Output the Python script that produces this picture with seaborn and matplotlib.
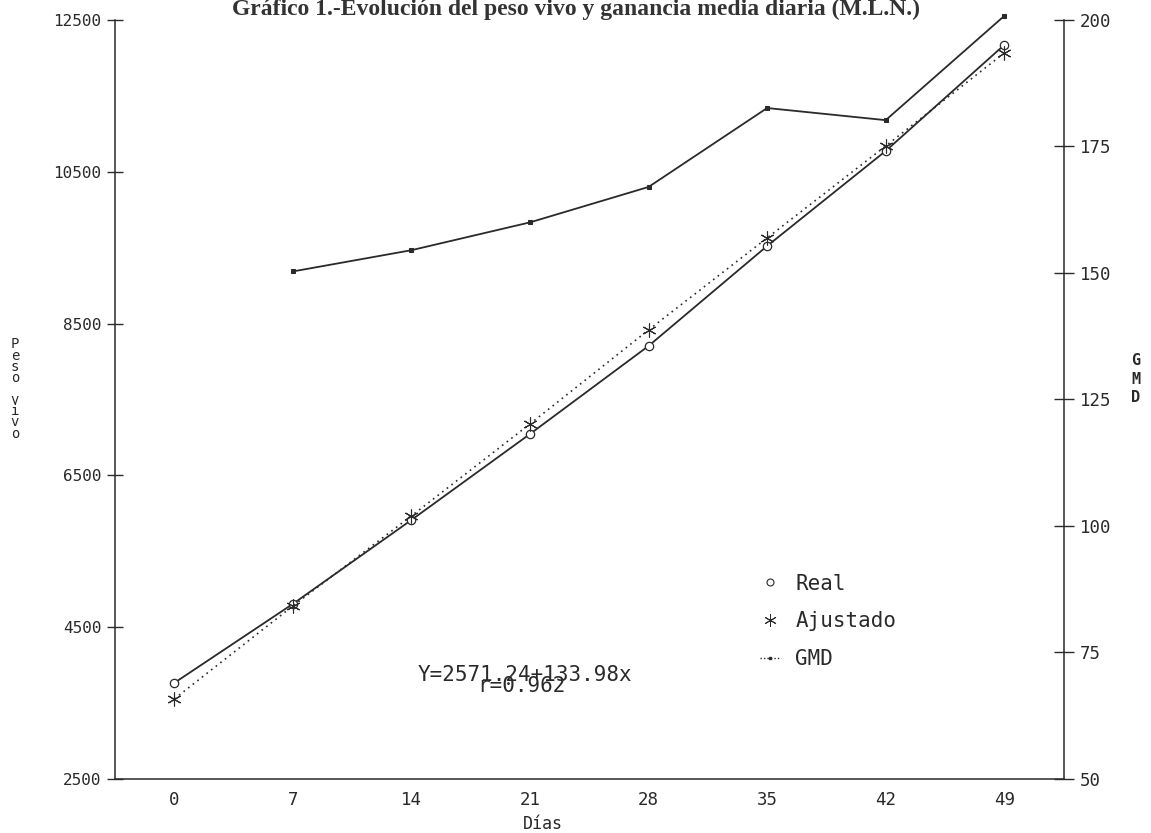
import matplotlib
matplotlib.use("Agg")
import matplotlib.pyplot as plt
from matplotlib.lines import Line2D
import seaborn as sns
import pandas as pd
import numpy as np

dias = [0, 7, 14, 21, 28, 35, 42, 49]
real = [3765, 4806, 5912, 7045, 8205, 9522, 10774, 12171]
ajustado = [3554, 4779, 5965, 7177, 8416, 9628, 10840, 12065]
gmd_dias = [7, 14, 21, 28, 35, 42, 49]
gmd = [150.3, 154.5, 160.0, 167.0, 182.6, 180.2, 200.8]
y_left_ticks = [2500, 4500, 6500, 8500, 10500, 12500]
y_right_ticks = [50, 75, 100, 125, 150, 175, 200]

sns.set_style("white")
plt.rcParams['font.family'] = ['DejaVu Sans Mono', 'DejaVu Sans']

ink = '#2a2a2a'
fig = plt.figure(figsize=(11.51, 8.33), dpi=100)
ax = fig.add_axes([0.1, 0.065, 0.824, 0.911])
ax2 = ax.twinx()

df_w = pd.DataFrame({'Días': dias, 'Real': real, 'Ajustado': ajustado})
df_g = pd.DataFrame({'Días': gmd_dias, 'GMD': gmd})

sns.lineplot(data=df_w, x='Días', y='Real', ax=ax, color=ink, lw=1.3,
             marker='o', markersize=6, markerfacecolor='white',
             markeredgecolor=ink, markeredgewidth=0.9, clip_on=False)
sns.lineplot(data=df_w, x='Días', y='Ajustado', ax=ax, color=ink, lw=1.2,
             linestyle=(0, (1, 2.5)), marker=(6, 2, 0), markersize=10,
             markeredgecolor=ink, markeredgewidth=0.8, clip_on=False)
sns.lineplot(data=df_g, x='Días', y='GMD', ax=ax2, color=ink, lw=1.3,
             marker='s', markersize=2.5, markeredgecolor=ink, clip_on=False)

ax.set_xlim(-3.5, 52.5)
ax.set_ylim(2500, 12500)
ax2.set_ylim(50, 200)

ax.set_xticks(np.arange(-3.5, 53, 7))
ax.set_xticklabels([])
ax.set_xticks(dias, minor=True)
ax.set_xticklabels([str(d) for d in dias], minor=True, fontsize=12.5, color=ink)
ax.tick_params(axis='x', which='major', direction='inout', length=16, width=1, color=ink)
ax.tick_params(axis='x', which='minor', length=0, pad=9)

ax.set_yticks(y_left_ticks)
ax.set_yticklabels([str(v) for v in y_left_ticks], fontsize=11.5, color=ink)
ax.tick_params(axis='y', which='major', direction='inout', length=12, width=1,
               color=ink, left=True, pad=4)
ax2.set_yticks(y_right_ticks)
ax2.set_yticklabels([str(v) for v in y_right_ticks], fontsize=12.5, color=ink)
ax2.tick_params(axis='y', direction='inout', length=14, width=1, color=ink,
                right=True, pad=5)

for a in (ax, ax2):
    a.spines['top'].set_visible(False)
    for s in ('left', 'right', 'bottom'):
        a.spines[s].set_color(ink)
        a.spines[s].set_linewidth(1.1)
    a.set_xlabel('')
    a.set_ylabel('')
    a.grid(False)
ax.spines['right'].set_visible(False)
ax2.spines['left'].set_visible(False)
ax2.spines['bottom'].set_visible(False)

fig.text(0.472, 0.011, 'Días', ha='center', va='center', fontsize=12, color=ink)
fig.text(0.013, 0.533, '\n'.join('Peso vivo'), ha='center', va='center',
         fontsize=10, color=ink, linespacing=0.74)
fig.text(0.987, 0.545, 'G\nM\nD', ha='center', va='center',
         fontsize=11, color=ink, linespacing=1.3, fontweight='bold')

fig.text(0.5, 0.989, 'Gráfico 1.-Evolución del peso vivo y ganancia media diaria (M.L.N.)',
         ha='center', va='center', fontsize=17, fontweight='bold', color='#333333',
         family=['Liberation Serif', 'DejaVu Serif'])

ax.text(0.432, 0.137, 'Y=2571.24+133.98x', transform=ax.transAxes, ha='center',
        va='center', fontsize=15, color=ink)
ax.text(0.428, 0.1225, 'r=0.962', transform=ax.transAxes, ha='center',
        va='center', fontsize=15, color=ink)

handles = [
    Line2D([], [], color=ink, lw=0, marker='o', markersize=5,
           markerfacecolor='white', markeredgecolor=ink, markeredgewidth=0.8),
    Line2D([], [], color=ink, lw=0, marker=(6, 2, 0), markersize=9,
           markeredgecolor=ink, markeredgewidth=0.7),
    Line2D([], [], color=ink, lw=1, linestyle=(0, (1, 1.5)), marker='s', markersize=2),
]
leg = ax.legend(handles, ['Real', 'Ajustado', 'GMD'], loc='upper left',
                bbox_to_anchor=(0.66, 0.295), frameon=False, fontsize=15,
                handlelength=1.0, handletextpad=0.7, labelspacing=0.85,
                labelcolor=ink)

fig.savefig('out.png', dpi=100, facecolor='white')
